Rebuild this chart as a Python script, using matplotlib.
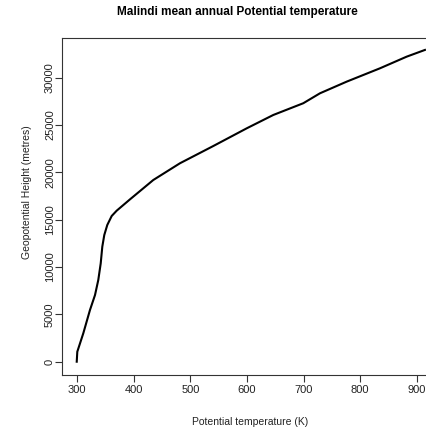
import matplotlib
matplotlib.use("Agg")
import matplotlib.pyplot as plt

# profile: potential temperature (K) vs height (m)
theta = [299, 300, 310.6, 322.4, 331.3, 337.1, 341.4, 344.2, 347.7, 353,
         360.8, 369.6, 393.2, 434.3, 481.5, 540.4, 599.5, 646.5, 699.5,
         729, 776.2, 835.1, 882.3, 914.6]
height = [0, 1056, 3000, 5460, 7040, 8630, 10390, 12150, 13380, 14440,
          15390, 15950, 17150, 19190, 20960, 22780, 24650, 26060, 27300,
          28350, 29580, 30990, 32220, 32930]

xticks = [300, 400, 500, 600, 700, 800, 900]
yticks = [0, 5000, 10000, 15000, 20000, 25000, 30000]

plt.rcParams['font.family'] = ['Liberation Sans', 'DejaVu Sans']

W, H = 427, 432
fig = plt.figure(figsize=(W / 100, H / 100), dpi=100)

# axes box in pixels (right side runs past the image edge, as in the reference)
left, right, top, bottom = 62, 440, 38, 375
ax = fig.add_axes([left / W, 1 - bottom / H, (right - left) / W, (bottom - top) / H])

ax.plot(theta, height, color='black', linewidth=1.5, solid_joinstyle='round')

ax.set_xlim(272.95, 941.2)
ax.set_ylim(-1405, 34190)
ax.set_xticks(xticks)
ax.set_yticks(yticks)
ax.set_xticklabels([str(t) for t in xticks])
ax.set_yticklabels([str(t) for t in yticks])

for s in ax.spines.values():
    s.set_linewidth(0.8)
    s.set_color('#333333')
ax.spines['right'].set_visible(False)

ax.tick_params(direction='out', length=5, width=0.8, color='#333333',
               labelsize=8, labelcolor='#222222')
ax.tick_params(axis='x', pad=2)
ax.tick_params(axis='y', pad=0)
for lab in ax.get_yticklabels():
    lab.set_rotation(90)
    lab.set_va('center')

fig.text(250 / W, 1 - 421.7 / H, 'Potential temperature (K)', fontsize=7.5,
         ha='center', va='center', color='#222222')
fig.text(27 / W, 1 - 192.6 / H, 'Geopotential Height (metres)', fontsize=7.5,
         ha='center', va='center', rotation=90, color='#222222')
fig.text(237 / W, 1 - 12 / H, 'Malindi mean annual Potential temperature',
         fontsize=8.5, fontweight='bold', ha='center', va='center')

fig.savefig('out.png', dpi=100)
